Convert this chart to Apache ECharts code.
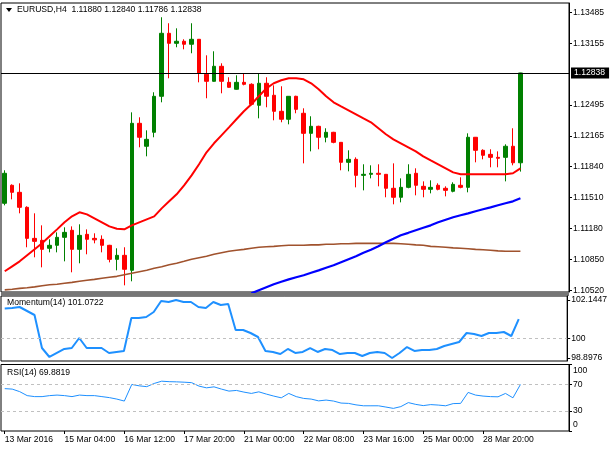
<!DOCTYPE html>
<html>
<head>
<meta charset="utf-8">
<title>EURUSD H4</title>
<script src="https://cdn.jsdelivr.net/npm/echarts@6/dist/echarts.min.js"></script>
<style>
  html, body { margin: 0; padding: 0; background: #fff; }
  .chart { width: 610px; height: 450px; }
</style>
</head>
<body>
<div class="chart"></div>
<script>
// K线时间
var times = [
  '13 Mar 20:00', '14 Mar 00:00', '14 Mar 04:00', '14 Mar 08:00', '14 Mar 12:00', '14 Mar 16:00', '14 Mar 20:00',
  '15 Mar 00:00', '15 Mar 04:00', '15 Mar 08:00', '15 Mar 12:00', '15 Mar 16:00', '15 Mar 20:00',
  '16 Mar 00:00', '16 Mar 04:00', '16 Mar 08:00', '16 Mar 12:00', '16 Mar 16:00', '16 Mar 20:00',
  '17 Mar 00:00', '17 Mar 04:00', '17 Mar 08:00', '17 Mar 12:00', '17 Mar 16:00', '17 Mar 20:00',
  '18 Mar 00:00', '18 Mar 04:00', '18 Mar 08:00', '18 Mar 12:00', '18 Mar 16:00', '18 Mar 20:00',
  '20 Mar 20:00', '21 Mar 00:00', '21 Mar 04:00', '21 Mar 08:00', '21 Mar 12:00', '21 Mar 16:00', '21 Mar 20:00',
  '22 Mar 00:00', '22 Mar 04:00', '22 Mar 08:00', '22 Mar 12:00', '22 Mar 16:00', '22 Mar 20:00',
  '23 Mar 00:00', '23 Mar 04:00', '23 Mar 08:00', '23 Mar 12:00', '23 Mar 16:00', '23 Mar 20:00',
  '24 Mar 00:00', '24 Mar 04:00', '24 Mar 08:00', '24 Mar 12:00', '24 Mar 16:00', '24 Mar 20:00',
  '25 Mar 00:00', '25 Mar 04:00', '27 Mar 20:00', '28 Mar 00:00', '28 Mar 04:00', '28 Mar 08:00',
  '28 Mar 12:00', '28 Mar 16:00', '28 Mar 20:00', '29 Mar 00:00', '29 Mar 04:00', '29 Mar 08:00',
  '29 Mar 12:00', '29 Mar 16:00'
];

// OHLC
var open = [
  1.11448, 1.11640, 1.11565, 1.11405, 1.11074, 1.11053, 1.10968, 1.11000, 1.11085, 1.11160,
  1.10957, 1.11117, 1.11074, 1.11064, 1.11000, 1.10850, 1.10893, 1.10733, 1.12301, 1.12056,
  1.12205, 1.12589, 1.13261, 1.13154, 1.13176, 1.13144, 1.13197, 1.12824, 1.12749, 1.12909,
  1.12738, 1.12664, 1.12738, 1.12717, 1.12493, 1.12728, 1.12600, 1.12429, 1.12344, 1.12589,
  1.12408, 1.12194, 1.12269, 1.12152, 1.12205, 1.12098, 1.11885, 1.11917, 1.11746, 1.11757,
  1.11768, 1.11757, 1.11608, 1.11512, 1.11618, 1.11768, 1.11629, 1.11597, 1.11640, 1.11608,
  1.11576, 1.11640, 1.11618, 1.12152, 1.12013, 1.11970, 1.11938, 1.11938, 1.12056, 1.11880
];
var close = [
  1.11768, 1.11565, 1.11405, 1.11074, 1.11042, 1.10957, 1.11000, 1.11085, 1.11138, 1.10957,
  1.11106, 1.11064, 1.11058, 1.11000, 1.10850, 1.10893, 1.10744, 1.12301, 1.12152, 1.12130,
  1.12589, 1.13261, 1.13154, 1.13176, 1.13144, 1.13197, 1.12834, 1.12749, 1.12909, 1.12749,
  1.12685, 1.12738, 1.12717, 1.12504, 1.12728, 1.12589, 1.12429, 1.12344, 1.12589, 1.12450,
  1.12194, 1.12269, 1.12152, 1.12205, 1.12098, 1.11885, 1.11917, 1.11746, 1.11757, 1.11768,
  1.11757, 1.11608, 1.11512, 1.11618, 1.11757, 1.11640, 1.11597, 1.11618, 1.11597, 1.11586,
  1.11650, 1.11618, 1.12152, 1.12013, 1.11960, 1.11938, 1.11928, 1.12056, 1.11880, 1.12838
];
var low = [
  1.11426, 1.11490, 1.11341, 1.10979, 1.10872, 1.10765, 1.10925, 1.10925, 1.10829, 1.10712,
  1.10808, 1.10904, 1.11021, 1.10925, 1.10818, 1.10733, 1.10573, 1.10616, 1.12045, 1.11949,
  1.12152, 1.12525, 1.12781, 1.13112, 1.13090, 1.13048, 1.12738, 1.12568, 1.12745, 1.12621,
  1.12680, 1.12660, 1.12706, 1.12493, 1.12354, 1.12472, 1.12333, 1.12312, 1.12290, 1.12408,
  1.11874, 1.12002, 1.12024, 1.12098, 1.12088, 1.11800, 1.11789, 1.11618, 1.11586, 1.11714,
  1.11629, 1.11512, 1.11437, 1.11458, 1.11608, 1.11533, 1.11512, 1.11554, 1.11586, 1.11522,
  1.11565, 1.11608, 1.11565, 1.11885, 1.11917, 1.11832, 1.11832, 1.11682, 1.11853, 1.11786
];
var high = [
  1.11800, 1.11650, 1.11661, 1.11416, 1.11341, 1.11213, 1.11064, 1.11138, 1.11192, 1.11202,
  1.11224, 1.11170, 1.11128, 1.11106, 1.11005, 1.10968, 1.10979, 1.12418, 1.12365, 1.12226,
  1.12632, 1.13432, 1.13368, 1.13314, 1.13197, 1.13368, 1.13200, 1.13026, 1.13069, 1.12941,
  1.12792, 1.12813, 1.12834, 1.12728, 1.12834, 1.12792, 1.12706, 1.12696, 1.12592, 1.12595,
  1.12461, 1.12376, 1.12275, 1.12248, 1.12210, 1.12100, 1.12013, 1.11938, 1.11864, 1.11853,
  1.11864, 1.11760, 1.11874, 1.11714, 1.11864, 1.11821, 1.11682, 1.11693, 1.11661, 1.11629,
  1.11672, 1.11725, 1.12194, 1.12155, 1.12024, 1.12024, 1.12002, 1.12077, 1.12248, 1.12840
];

// 均线
var maRed = [
  1.10723, 1.10776, 1.10829, 1.10893, 1.10957, 1.11021, 1.11096, 1.11170, 1.11245, 1.11309,
  1.11352, 1.11330, 1.11288, 1.11245, 1.11202, 1.11176, 1.11170, 1.11213, 1.11245, 1.11277,
  1.11309, 1.11394, 1.11469, 1.11544, 1.11640, 1.11746, 1.11864, 1.11992, 1.12088, 1.12173,
  1.12258, 1.12344, 1.12429, 1.12504, 1.12589, 1.12674, 1.12728, 1.12760, 1.12781, 1.12781,
  1.12770, 1.12728, 1.12664, 1.12589, 1.12525, 1.12482, 1.12440, 1.12397, 1.12354, 1.12312,
  1.12248, 1.12184, 1.12130, 1.12088, 1.12045, 1.12002, 1.11949, 1.11906, 1.11864, 1.11821,
  1.11778, 1.11757, 1.11757, 1.11757, 1.11757, 1.11757, 1.11757, 1.11757, 1.11768, 1.11821
];
// 蓝线从第33根开始出现
var maBlueStart = 33;
var maBlue = [
  1.10488, 1.10520, 1.10552, 1.10584, 1.10611, 1.10637, 1.10659, 1.10680, 1.10707, 1.10733,
  1.10760, 1.10787, 1.10819, 1.10851, 1.10883, 1.10920, 1.10952, 1.10989, 1.11032, 1.11069,
  1.11107, 1.11133, 1.11160, 1.11187, 1.11213, 1.11245, 1.11272, 1.11299, 1.11320, 1.11341,
  1.11363, 1.11384, 1.11405, 1.11427, 1.11448, 1.11469, 1.11501
];
var maBrown = [
  1.10525, 1.10531, 1.10541, 1.10547, 1.10557, 1.10568, 1.10579, 1.10584, 1.10595, 1.10605,
  1.10616, 1.10627, 1.10637, 1.10648, 1.10659, 1.10669, 1.10685, 1.10701, 1.10717, 1.10733,
  1.10755, 1.10771, 1.10792, 1.10808, 1.10829, 1.10851, 1.10867, 1.10883, 1.10904, 1.10920,
  1.10936, 1.10947, 1.10957, 1.10968, 1.10979, 1.10984, 1.10989, 1.10995, 1.11000, 1.11000,
  1.11000, 1.11005, 1.11005, 1.11011, 1.11011, 1.11016, 1.11016, 1.11021, 1.11021, 1.11021,
  1.11021, 1.11021, 1.11021, 1.11016, 1.11011, 1.11005, 1.11000, 1.10989, 1.10984, 1.10979,
  1.10973, 1.10968, 1.10963, 1.10957, 1.10952, 1.10947, 1.10941, 1.10936, 1.10936, 1.10936
];

// 指标
var momentum = [
  101.669, 101.697, 101.753, 101.529, 101.305, 99.457, 98.954, 99.178, 99.402, 99.457,
  100.017, 99.457, 99.457, 99.457, 99.178, 99.234, 99.290, 101.137, 101.137, 101.193,
  101.473, 102.089, 102.033, 102.1447, 102.033, 102.033, 101.753, 101.697, 102.033, 101.865,
  101.921, 100.465, 100.465, 100.297, 100.073, 99.290, 99.234, 99.121, 99.402, 99.178,
  99.234, 99.457, 99.234, 99.402, 99.345, 99.121, 99.178, 99.178, 99.010, 99.178,
  99.234, 99.178, 98.8976, 99.178, 99.513, 99.290, 99.345, 99.345, 99.402, 99.569,
  99.681, 99.793, 100.297, 100.241, 100.129, 100.297, 100.297, 100.353, 100.129, 101.0722
];
var rsi = [
  63.7, 63.0, 59.2, 53.2, 51.7, 51.7, 53.2, 54.0, 53.2, 51.7,
  54.0, 53.2, 53.2, 51.7, 50.2, 48.0, 45.0, 70.0, 67.9, 66.7,
  71.5, 74.9, 74.2, 73.9, 73.4, 72.7, 67.5, 64.9, 66.4, 63.0,
  60.0, 61.0, 58.5, 56.5, 58.9, 55.5, 52.5, 49.9, 56.5, 51.7,
  49.0, 48.0, 45.3, 46.5, 45.0, 42.0, 41.5, 39.3, 37.9, 37.9,
  37.9, 36.0, 34.0, 36.7, 42.7, 40.0, 38.2, 39.7, 39.0, 37.9,
  41.2, 41.5, 58.0, 54.0, 52.5, 51.7, 51.4, 56.5, 49.9, 69.8819
];

// 刻度
var priceTicks = [1.10520, 1.10850, 1.11180, 1.11510, 1.11840, 1.12165, 1.12495, 1.13155, 1.13485];
var momentumTicks = [98.8976, 100, 102.1447];
var rsiTicks = [0, 30, 70, 100];
var momentumLevel = 100;
var rsiLevels = [70, 30];
var lastPrice = 1.12838;
var headerText = 'EURUSD,H4  1.11880 1.12840 1.11786 1.12838';

(function () {
  var FONT = 'Liberation Sans';
  var FS = 8.6;
  // 右侧留空 6 根
  var slots = times.concat(['', '', '', '', '', '']);
  var candles = times.map(function (t, i) {
    return [open[i], close[i], low[i], high[i]];
  });
  var blueData = slots.map(function (t, i) {
    var k = i - maBlueStart;
    return (k >= 0 && k < maBlue.length) ? maBlue[k] : null;
  });

  function xAxisFor(gridIndex, showLabels) {
    return {
      type: 'category',
      gridIndex: gridIndex,
      data: slots,
      boundaryGap: true,
      axisLine: { show: false },
      axisTick: {
        show: showLabels,
        alignWithLabel: true,
        length: 3,
        lineStyle: { color: '#000' },
        interval: function (idx) { return idx % 8 === 0 && idx < times.length; }
      },
      axisLabel: {
        show: showLabels,
        align: 'left',
        margin: 4,
        color: '#000',
        fontFamily: FONT,
        fontSize: FS,
        interval: function (idx) { return idx % 8 === 0 && idx < times.length; },
        formatter: function (v, idx) { return idx === 0 ? '13 Mar 2016' : v; }
      },
      splitLine: { show: false }
    };
  }
  function yAxisFor(gridIndex, min, max, ticks, fmt, rich) {
    return {
      type: 'value',
      gridIndex: gridIndex,
      position: 'right',
      min: min,
      max: max,
      scale: true,
      axisLine: { show: true, lineStyle: { color: '#000', width: 1 } },
      axisTick: { show: true, length: 3, lineStyle: { color: '#000' }, customValues: ticks },
      axisLabel: {
        color: '#000', fontFamily: FONT, fontSize: FS, margin: 4,
        customValues: ticks, formatter: fmt, rich: rich
      },
      splitLine: { show: false }
    };
  }
  var gridBorder = { show: true, borderColor: '#000', borderWidth: 1, backgroundColor: '#fff' };

  var myChart = echarts.init(document.querySelector('.chart'));
  var option = {
    animation: false,
    backgroundColor: '#fff',
    title: [
      { text: headerText, left: 17, top: 5, padding: 0, textStyle: { fontFamily: FONT, fontSize: FS, fontWeight: 'normal', color: '#000' } },
      { text: 'Momentum(14) ' + momentum[momentum.length - 1].toFixed(4), left: 7, top: 298, padding: 0, textStyle: { fontFamily: FONT, fontSize: FS, fontWeight: 'normal', color: '#000' } },
      { text: 'RSI(14) ' + rsi[rsi.length - 1].toFixed(4), left: 7, top: 368, padding: 0, textStyle: { fontFamily: FONT, fontSize: FS, fontWeight: 'normal', color: '#000' } }
    ],
    graphic: [
      { type: 'rect', shape: { x: 1, y: 292, width: 568, height: 4 }, style: { fill: '#767676' }, z: 0 },
      { type: 'polygon', shape: { points: [[6, 8], [12, 8], [9, 12]] }, style: { fill: '#000' }, z: 10 }
    ],
    grid: [
      Object.assign({ left: 1, right: 41, top: 3, height: 289 }, gridBorder),
      Object.assign({ left: 1, right: 41, top: 296, height: 65 }, gridBorder),
      Object.assign({ left: 1, right: 41, top: 364.5, height: 66.5 }, gridBorder)
    ],
    xAxis: [xAxisFor(0, false), xAxisFor(1, false), xAxisFor(2, true)],
    yAxis: [
      yAxisFor(0, 1.10502, 1.13584, priceTicks, function (v) { return v.toFixed(5); }),
      yAxisFor(1, 98.7296, 102.3687, momentumTicks, function (v) { return v === 100 ? '100' : v.toFixed(4); }),
      yAxisFor(2, 0, 100, rsiTicks, function (v) {
        if (v === 100) return '{t|100}';
        if (v === 0) return '{b|0}';
        return String(v);
      }, {
        t: { padding: [13, 0, 0, 0], fontFamily: FONT, fontSize: FS, color: '#000' },
        b: { padding: [0, 0, 13, 0], fontFamily: FONT, fontSize: FS, color: '#000' }
      })
    ],
    series: [
      {
        type: 'candlestick',
        xAxisIndex: 0,
        yAxisIndex: 0,
        data: candles,
        barWidth: 4,
        itemStyle: {
          color: '#008000',
          color0: '#ff0000',
          borderColor: '#008000',
          borderColor0: '#ff0000',
          borderWidth: 1
        },
        markLine: {
          silent: true,
          symbol: 'none',
          precision: 5,
          lineStyle: { color: '#000', width: 1, type: 'solid' },
          label: {
            position: 'end',
            distance: 2,
            formatter: function (p) { return Number(p.value).toFixed(5); },
            backgroundColor: '#000',
            color: '#fff',
            padding: [1, 4, 1, 3],
            fontFamily: FONT,
            fontSize: FS
          },
          data: [{ yAxis: lastPrice }]
        }
      },
      { type: 'line', xAxisIndex: 0, yAxisIndex: 0, data: maBrown, symbol: 'none', lineStyle: { color: '#a0522d', width: 1.6 } },
      { type: 'line', xAxisIndex: 0, yAxisIndex: 0, data: blueData, symbol: 'none', lineStyle: { color: '#0000ff', width: 2.2 } },
      { type: 'line', xAxisIndex: 0, yAxisIndex: 0, data: maRed, symbol: 'none', lineStyle: { color: '#ff0000', width: 2 } },
      {
        type: 'line', xAxisIndex: 1, yAxisIndex: 1, data: momentum, symbol: 'none',
        lineStyle: { color: '#1e90ff', width: 2 },
        markLine: {
          silent: true, symbol: 'none', label: { show: false },
          lineStyle: { color: '#c0c0c0', width: 1, type: [3, 3] },
          data: [{ yAxis: momentumLevel }]
        }
      },
      {
        type: 'line', xAxisIndex: 2, yAxisIndex: 2, data: rsi, symbol: 'none',
        lineStyle: { color: '#1e90ff', width: 1 },
        markLine: {
          silent: true, symbol: 'none', label: { show: false },
          lineStyle: { color: '#c0c0c0', width: 1, type: [3, 3] },
          data: rsiLevels.map(function (v) { return { yAxis: v }; })
        }
      }
    ]
  };
  myChart.setOption(option);
  window.addEventListener('resize', function () {
    myChart.resize();
  });
})();
</script>
</body>
</html>
